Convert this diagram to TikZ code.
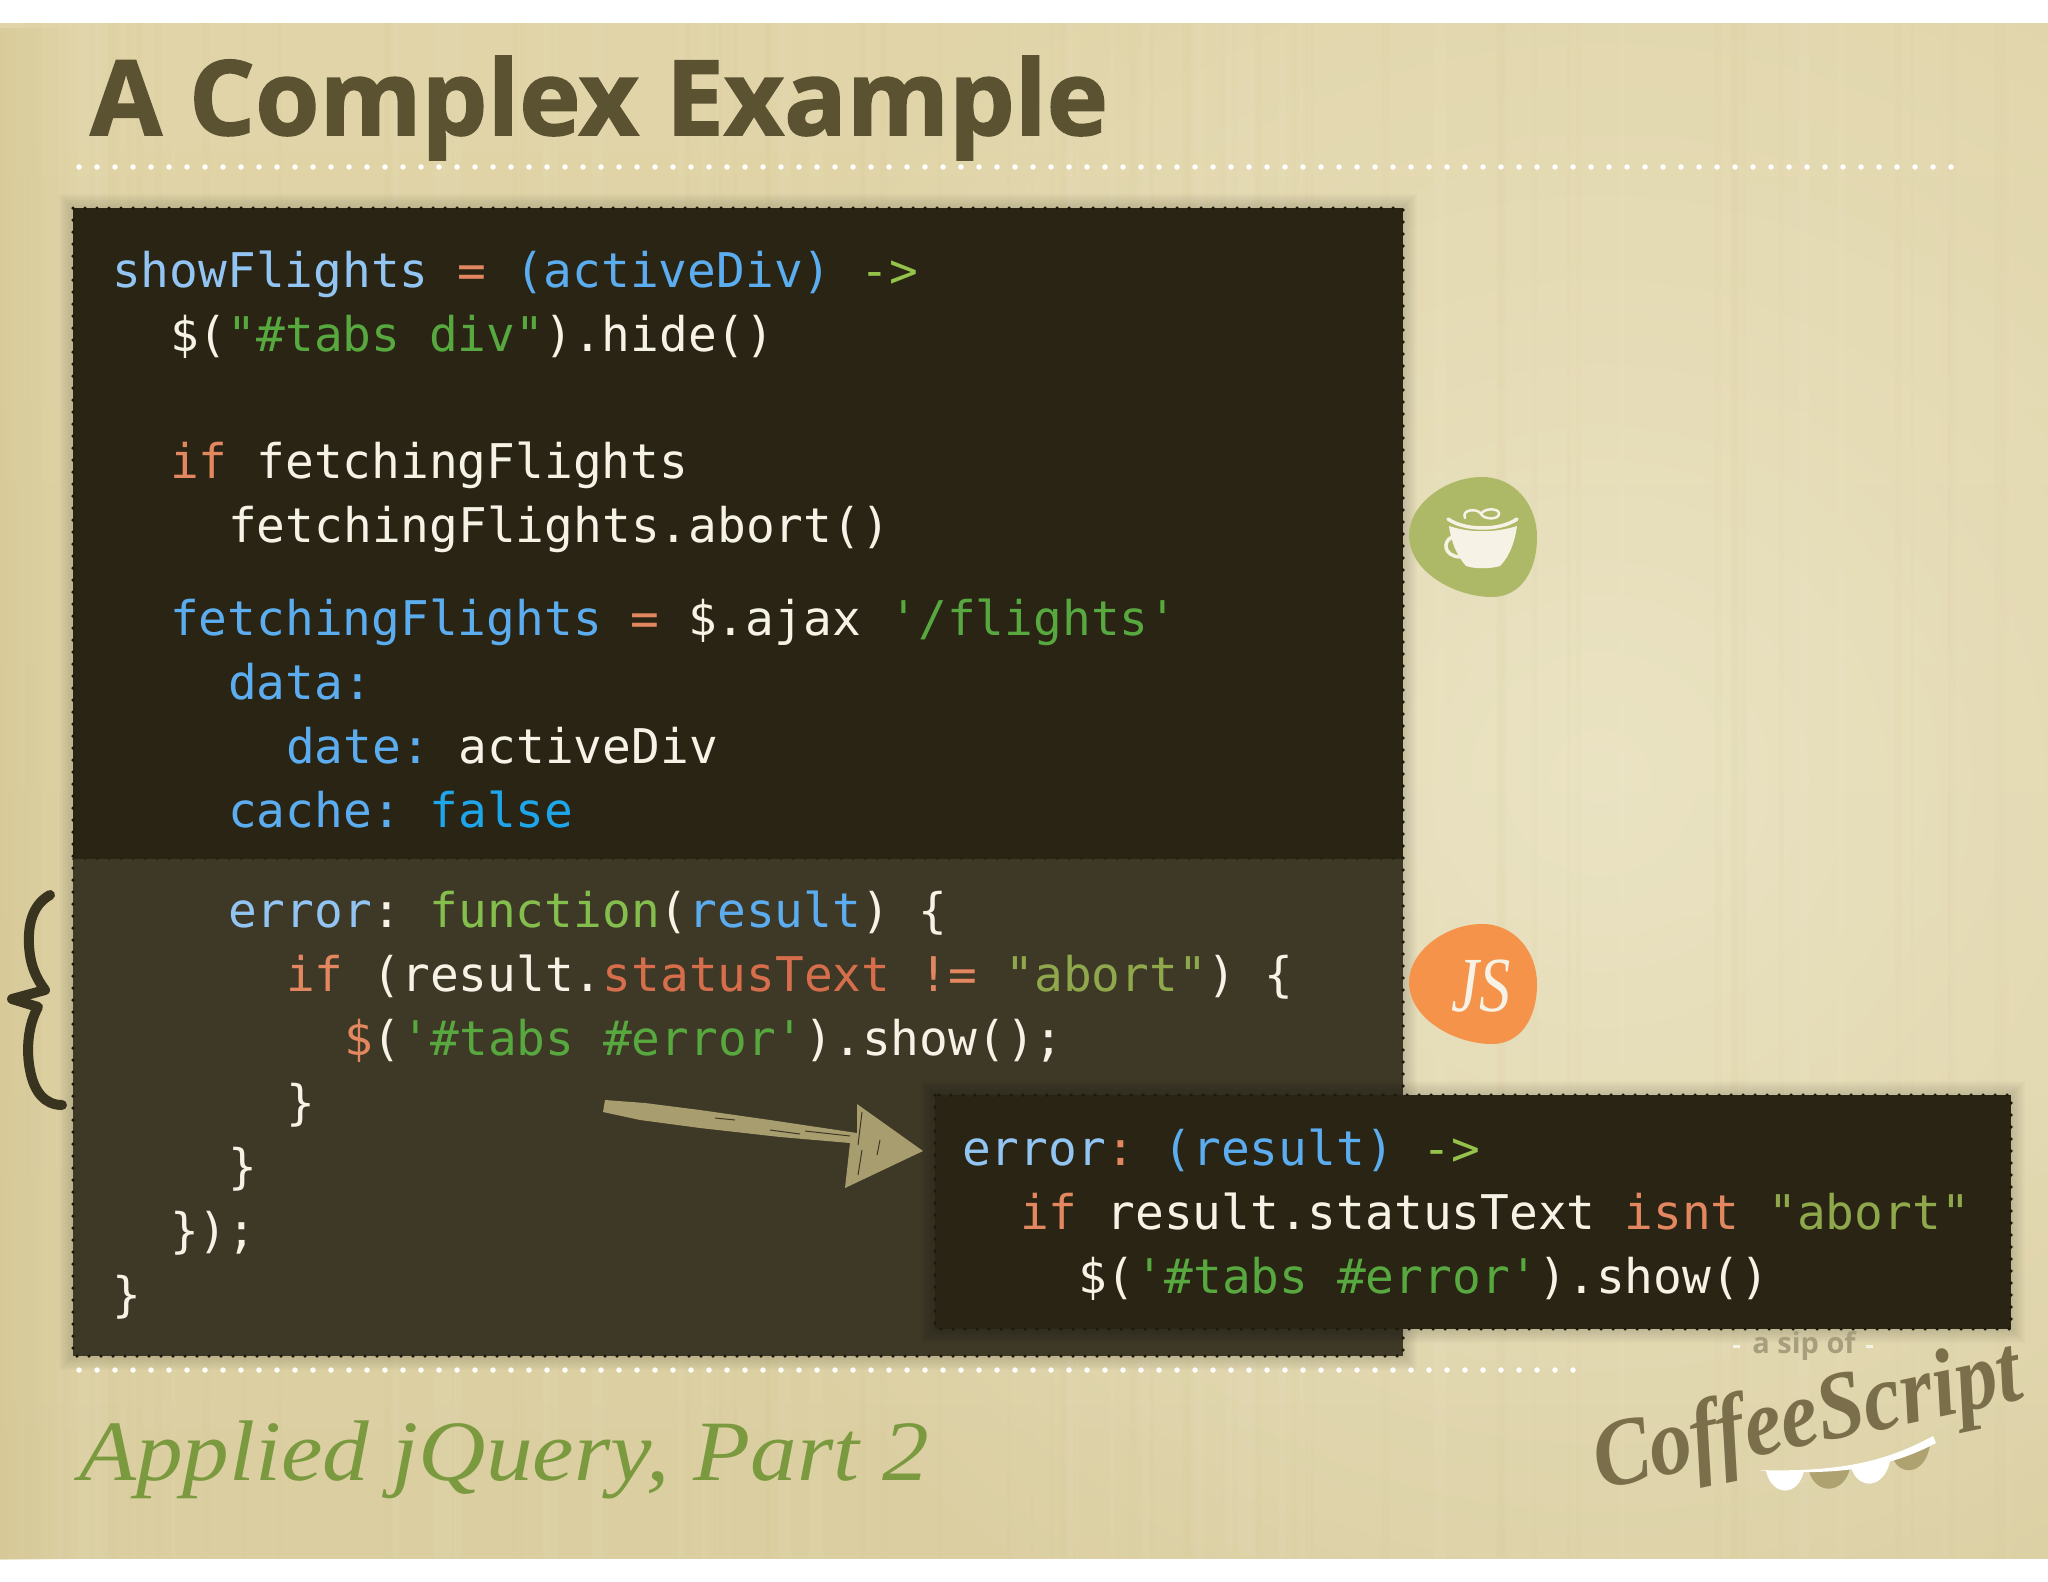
\documentclass[tikz,border=0pt]{standalone}
\usepackage{fontspec}
\setmonofont{DejaVu Sans Mono}
\newfontfamily\titlefont[BoldFeatures={FakeBold=1.5}]{Open Sans}
\newfontfamily\subfont[FakeStretch=1.085]{Liberation Serif}
\newfontfamily\jsfont[FakeStretch=.8]{Liberation Serif}
\newfontfamily\logofont[FakeStretch=.88]{Liberation Serif}
\newfontfamily\sipfont{Open Sans}
\usetikzlibrary{fadings}
\definecolor{paper}{HTML}{E2D7AE}
\definecolor{paperlight}{HTML}{F0EBD0}
\definecolor{paperedge}{HTML}{D3C38C}
\definecolor{papertop}{HTML}{E0D4A8}
\definecolor{paperlow}{HTML}{DBCFA2}
\definecolor{boxdark}{HTML}{292413}
\definecolor{boxlight}{HTML}{3E3826}
\definecolor{boxdots}{HTML}{1C180C}
\definecolor{titlecol}{HTML}{5B5232}
\definecolor{subcol}{HTML}{7B9A3F}
\definecolor{codewhite}{HTML}{F6F2E6}
\definecolor{varcol}{HTML}{92C5F3}
\definecolor{argcol}{HTML}{5CADF0}
\definecolor{boolcol}{HTML}{1FA6EA}
\definecolor{opcol}{HTML}{E2875F}
\definecolor{statcol}{HTML}{D66E4C}
\definecolor{strcol}{HTML}{58A840}
\definecolor{arrcol}{HTML}{95C24A}
\definecolor{funccol}{HTML}{84BE4C}
\definecolor{absorb}{HTML}{8FA84C}
\definecolor{chalk}{HTML}{A89D6E}
\definecolor{bracecol}{HTML}{38341F}
\definecolor{blobgreen}{HTML}{AEB968}
\definecolor{bloborange}{HTML}{F5934A}
\definecolor{cupwhite}{HTML}{F6F3E6}
\definecolor{logocol}{HTML}{7A6E4B}
\definecolor{sipcol}{HTML}{A69E7C}
\definecolor{flagcol}{HTML}{AFA271}
\tikzfading[name=softglow,inner color=transparent!30,outer color=transparent!100]
\newcommand{\cvar}[1]{\textcolor{varcol}{#1}}
\newcommand{\carg}[1]{\textcolor{argcol}{#1}}
\newcommand{\cop}[1]{\textcolor{opcol}{#1}}
\newcommand{\cstr}[1]{\textcolor{strcol}{#1}}
\newcommand{\carr}[1]{\textcolor{arrcol}{#1}}
\tikzset{
  codeline/.style={anchor=base west,inner sep=0pt,font=\ttfamily\fontsize{47.8}{48}\selectfont,text=codewhite},
  dotrule/.style={white,line width=5.5pt,line cap=round,dash pattern=on 0pt off 18pt},
  boxedge/.style={boxdots,line width=3.5pt,line cap=round,dash pattern=on 0pt off 12pt},
  blob/.pic={\fill[#1] (1409,535) .. controls (1409,505) and (1445,477) .. (1482,477) .. controls (1515,477) and (1537,505) .. (1537,537) .. controls (1537,572) and (1520,597) .. (1492,597) .. controls (1455,597) and (1409,572) .. (1409,535) -- cycle;},
  cupline/.style={cupwhite,line cap=round},
  streak/.style={boxlight,line width=1pt}
}
\begin{document}
\begin{tikzpicture}[x=1pt,y=-1pt]
  \useasboundingbox (0,0) rectangle (2048,1582);
  \fill[white] (0,0) rectangle (2048,1582);
  \shade[top color=papertop,middle color=paper,bottom color=paperlow] (0,23) rectangle (2048,1558);
  \begin{scope}
    \clip (0,23) rectangle (2048,1558);
    \fill[paperlight,path fading=softglow] (1600,780) circle (1000);
  \end{scope}
  \fill[paperedge,opacity=.5,path fading=east] (0,23) rectangle (70,1558);
  \pgfmathsetseed{7}
  \foreach \i in {1,...,60}{
    \pgfmathsetmacro{\gx}{random(10,2040)}
    \pgfmathsetmacro{\gw}{random(2,9)}
    \fill[paperedge,opacity=.05] (\gx,23) rectangle (\gx+\gw,1558);
  }
  \foreach \i in {1,...,30}{
    \pgfmathsetmacro{\gx}{random(10,2040)}
    \pgfmathsetmacro{\gw}{random(3,14)}
    \fill[white,opacity=.04] (\gx,23) rectangle (\gx+\gw,1558);
  }
  \node[anchor=base west,inner sep=0pt,text=titlecol,font=\titlefont\bfseries\fontsize{104}{105}\selectfont] (title) at (90,135) {A Complex Example};
  \draw[dotrule] (79,167) -- (1955,167);
  \draw[dotrule] (79,1370) -- (1574,1370);
  \foreach \s in {14,12,10,8,6,4,2}{
    \fill[black,opacity=.02] (73-\s,208-\s) rectangle (1403+\s,1356+\s);
  }
  \fill[boxdark] (73,208) rectangle (1403,859);
  \fill[boxlight] (73,859) rectangle (1403,1356);
  \draw[boxedge] (73,208) rectangle (1403,1356);
  \draw[boxdots,line width=2pt,line cap=round,dash pattern=on 0pt off 12pt,opacity=.8] (73,859) -- (1403,859);
  \node[codeline] (showdef) at (112,287) {\cvar{showFlights} \cop{=} \carg{(activeDiv)} \carr{->}};
  \node[codeline] (hideall) at (170,351) {\$(\cstr{"\#tabs div"}).hide()};
  \node[codeline] (iffetch) at (170,478) {\cop{if} fetchingFlights};
  \node[codeline] (abortcall) at (228,542) {fetchingFlights.abort()};
  \node[codeline] (ajaxcall) at (170,635) {\carg{fetchingFlights} \cop{=} \$.ajax \cstr{'/flights'}};
  \node[codeline] (datakey) at (228,699) {\carg{data:}};
  \node[codeline] (datekey) at (286,763) {\carg{date:} activeDiv};
  \node[codeline] (cachekey) at (228,827) {\carg{cache:} \textcolor{boolcol}{false}};
  \node[codeline] (errorjs) at (228,927) {\cvar{error}: \textcolor{funccol}{function}(\carg{result}) \{};
  \node[codeline] (ifjs) at (286,991) {\cop{if} (result.\textcolor{statcol}{statusText} \cop{!=} \textcolor{absorb}{"abort"}) \{};
  \node[codeline] (showjs) at (344,1055) {\cop{\$}(\cstr{'\#tabs \#error'}).show();};
  \node[codeline] (closea) at (286,1119) {\}};
  \node[codeline] (closeb) at (228,1183) {\}};
  \node[codeline] (closec) at (170,1247) {\});};
  \node[codeline] (closed) at (112,1311) {\}};
  \foreach \s in {14,12,10,8,6,4,2}{
    \fill[black,opacity=.02] (935-\s,1095-\s) rectangle (2011+\s,1329+\s);
  }
  \fill[boxdark] (935,1095) rectangle (2011,1329);
  \draw[boxedge] (935,1095) rectangle (2011,1329);
  \node[codeline] (errorcs) at (962,1165) {\cvar{error}\cop{:} \carg{(result)} \carr{->}};
  \node[codeline] (ifcs) at (1020,1229) {\cop{if} result.statusText \cop{isnt} \textcolor{absorb}{"abort"}};
  \node[codeline] (showcs) at (1078,1293) {\$(\cstr{'\#tabs \#error'}).show()};
  \pic at (0,0) {blob=blobgreen};
  \pic at (0,447) {blob=bloborange};
  \draw[cupline,line width=3.5pt] (1448,519) .. controls (1465,531) and (1500,531) .. (1517,519);
  \fill[cupwhite] (1449,526) .. controls (1470,533) and (1495,533) .. (1517,526) .. controls (1514,548) and (1506,560) .. (1500,566) .. controls (1490,569) and (1475,569) .. (1466,566) .. controls (1457,556) and (1451,542) .. (1449,526) -- cycle;
  \draw[cupline,line width=3.5pt] (1452,537) .. controls (1442,542) and (1444,556) .. (1460,557);
  \draw[cupline,line width=2.5pt] (1465,518) .. controls (1461,509) and (1478,508) .. (1481,514) .. controls (1484,520) and (1500,520) .. (1499,513) .. controls (1498,508) and (1484,508) .. (1481,514);
  \node[text=cupwhite,inner sep=0pt,font=\jsfont\itshape\fontsize{78}{78}\selectfont] (jslabel) at (1481,986) {JS};
  \draw[bracecol,line width=10pt,line cap=round,line join=round] (50,895) .. controls (32,905) and (28,925) .. (29,945) .. controls (30,965) and (36,978) .. (45,990) -- (12,999) -- (38,1007) .. controls (28,1025) and (26,1050) .. (30,1070) .. controls (34,1092) and (45,1105) .. (62,1105);
  \coordinate (arrowtip) at (923,1151);
  \fill[chalk] (605,1100) -- (645,1103) -- (700,1110) -- (770,1120) -- (857,1133) -- (857,1104) -- (arrowtip) -- (845,1188) -- (850,1143) -- (780,1137) -- (700,1128) -- (640,1120) -- (603,1112) -- cycle;
  \draw[streak] (715,1118) -- (735,1120) (805,1131) -- (850,1136) (862,1112) -- (858,1145) (862,1150) -- (858,1175) (880,1140) -- (877,1155) (770,1130) -- (800,1134);
  \node[text=sipcol,inner sep=0pt,anchor=base,font=\sipfont\bfseries\fontsize{29}{29}\selectfont] (siplabel) at (1804,1353) {a sip of};
  \fill[white,opacity=.7] (1733,1345) rectangle (1740,1348) (1866,1345) rectangle (1873,1348);
  \node[text=logocol,inner sep=0pt,rotate=12,font=\logofont\bfseries\itshape\fontsize{96}{96}\selectfont] (logotext) at (1808,1421) {CoffeeScript};
  \fill[white] (1766,1471) .. controls (1772,1497) and (1798,1497) .. (1804,1471) -- cycle;
  \fill[flagcol] (1809,1471) .. controls (1815,1495) and (1844,1495) .. (1850,1468) -- cycle;
  \fill[white] (1851,1467) .. controls (1857,1490) and (1884,1490) .. (1890,1461) -- cycle;
  \fill[flagcol] (1893,1458) .. controls (1899,1476) and (1925,1476) .. (1930,1445) -- cycle;
  \fill[white] (1757,1470) .. controls (1830,1472) and (1880,1465) .. (1933,1436) -- (1936,1443) .. controls (1885,1470) and (1830,1476) .. (1757,1470) -- cycle;
  \node[anchor=base west,inner sep=0pt,text=subcol,font=\subfont\itshape\fontsize{86}{86}\selectfont] (subtitle) at (79,1480) {Applied jQuery, Part 2};
\end{tikzpicture}
\end{document}
